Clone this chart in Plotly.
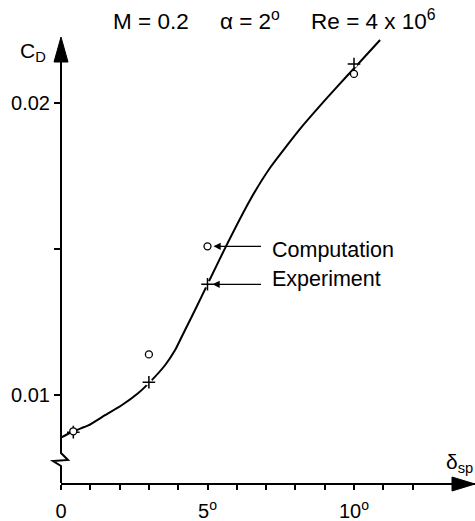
import plotly.graph_objects as go

# Spoiler deflection (deg) and drag coefficient along the fitted curve
curve_delta = [0.0, 0.42, 0.93, 1.50, 2.07, 2.64, 3.04, 3.55, 3.89, 4.23, 4.57, 5.0,
               5.63, 6.45, 7.13, 8.16, 9.08, 9.76, 10.14, 10.89]
curve_cd = [0.00855, 0.00877, 0.00897, 0.00932, 0.00966, 0.01008, 0.01046, 0.01103, 0.01154,
            0.01223, 0.01291, 0.0138, 0.0151, 0.01668, 0.01778, 0.01912, 0.02018, 0.02093,
            0.02134, 0.02216]

comp_delta = [0.42, 3.0, 5.0, 10.0]
comp_cd = [0.00877, 0.0114, 0.0151, 0.0210]

exp_delta = [0.42, 3.0, 5.0, 10.0]
exp_cd = [0.00874, 0.01045, 0.0138, 0.02134]

x_tickvals = list(range(0, 13))
x_ticktext = ["0" if v == 0 else (f"{v}<sup>o</sup>" if v % 5 == 0 else "") for v in x_tickvals]
y_tickvals = [0.01, 0.015, 0.02]
y_ticktext = ["0.01", "", "0.02"]

FONT = "Liberation Sans, Arial, sans-serif"
X_MAX = 14.13
Y_MIN, Y_MAX = 0.007, 0.02353

fig = go.Figure()

# fitted curve
fig.add_trace(go.Scatter(
    x=curve_delta, y=curve_cd, mode="lines",
    line=dict(color="black", width=2, shape="spline", smoothing=0.5),
    hoverinfo="skip", showlegend=False))

# white halo so the curve breaks around the experiment crosses
fig.add_trace(go.Scatter(
    x=exp_delta, y=exp_cd, mode="markers",
    marker=dict(symbol="circle", size=7, color="white", line=dict(width=0)),
    hoverinfo="skip", showlegend=False))

fig.add_trace(go.Scatter(
    x=exp_delta, y=exp_cd, mode="markers", name="Experiment",
    marker=dict(symbol="cross-thin", size=9, line=dict(color="black", width=1.5)),
    showlegend=False))

fig.add_trace(go.Scatter(
    x=comp_delta, y=comp_cd, mode="markers", name="Computation",
    marker=dict(symbol="circle", size=7, color="white", line=dict(color="black", width=1.3)),
    showlegend=False))

# y axis drawn by hand: broken near the origin and ending in an arrow
axis_style = dict(xref="paper", yref="paper", xsizemode="pixel", ysizemode="pixel")
fig.add_shape(type="path", xanchor=0, yanchor=0,
              path="M0,0 L0,17 L-8,22 L7,23 L0,30 L0,424",
              line=dict(color="black", width=2), **axis_style)
fig.add_shape(type="path", xanchor=0, yanchor=0,
              path="M0,446 L-7,421 L7,421 Z",
              line=dict(color="black", width=1), fillcolor="black", **axis_style)
# arrow at the end of the x axis
fig.add_shape(type="path", xanchor=1, yanchor=0,
              path="M0,-1 L-23,6 L-23,-8 Z",
              line=dict(color="black", width=1), fillcolor="black", **axis_style)

TXT = dict(family=FONT, size=21.5, color="black")
SP = "\u00a0" * 5
annotations = [
    dict(x=7.3, y=0.02284, xref="x", yref="y", showarrow=False,
         xanchor="center", yanchor="middle",
         text=f"M = 0.2{SP}\u03b1 = 2<sup>o</sup>{SP}Re = 4 x 10<sup>6</sup>",
         font=dict(family=FONT, size=22.5, color="black")),
    dict(x=-0.068, y=0.892, xref="paper", yref="paper", showarrow=False,
         xanchor="center", yanchor="middle",
         text="C<sub>D</sub>", font=dict(family=FONT, size=21, color="black")),
    dict(x=1, y=0.00767, xref="paper", yref="y", showarrow=False, xanchor="right",
         text="\u03b4<sub>sp</sub>", font=dict(family=FONT, size=21, color="black")),
    # callouts
    dict(x=comp_delta[2], y=comp_cd[2], xref="x", yref="y", text="", showarrow=True,
         ax=55, ay=0, axref="pixel", ayref="pixel", standoff=6,
         arrowhead=2, arrowsize=1.2, arrowwidth=1.2, arrowcolor="black"),
    dict(x=7.12, y=0.01497, xref="x", yref="y", showarrow=False, xanchor="left",
         text="Computation", font=TXT),
    dict(x=exp_delta[2], y=exp_cd[2], xref="x", yref="y", text="", showarrow=True,
         ax=55, ay=0, axref="pixel", ayref="pixel", standoff=5,
         arrowhead=2, arrowsize=1.2, arrowwidth=1.2, arrowcolor="black"),
    dict(x=7.12, y=0.01397, xref="x", yref="y", showarrow=False, xanchor="left",
         text="Experiment", font=TXT),
]

fig.update_layout(
    width=475, height=521,
    margin=dict(l=61, r=0, t=0, b=38, pad=0),
    paper_bgcolor="white", plot_bgcolor="white",
    font=dict(family=FONT, color="black"),
    annotations=annotations,
    xaxis=dict(range=[0, X_MAX], showgrid=False, zeroline=False, automargin=False,
               showline=True, linecolor="black", linewidth=2,
               ticks="outside", ticklen=5, tickwidth=1.5, tickcolor="black",
               ticklabelstandoff=4,
               tickvals=x_tickvals, ticktext=x_ticktext,
               tickfont=dict(family=FONT, size=20, color="black")),
    yaxis=dict(range=[Y_MIN, Y_MAX], showgrid=False, zeroline=False, automargin=False,
               showline=False, ticks="outside", ticklen=6, tickwidth=1.5, tickcolor="black",
               tickvals=y_tickvals, ticktext=y_ticktext,
               tickfont=dict(family=FONT, size=20, color="black")),
)

fig.write_html("out.html")
